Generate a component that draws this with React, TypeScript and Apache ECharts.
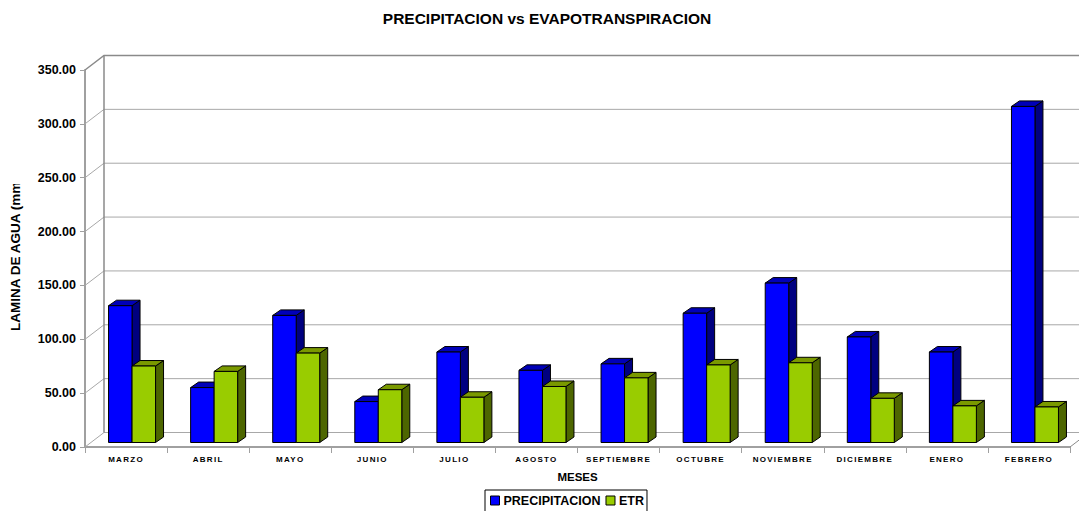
import React, { useEffect, useRef } from "react";
import * as echarts from "echarts";

const categories = ["MARZO","ABRIL","MAYO","JUNIO","JULIO","AGOSTO","SEPTIEMBRE","OCTUBRE","NOVIEMBRE","DICIEMBRE","ENERO","FEBRERO"];
const precipitacion = [127,51,118,38,84,67,73,120,148,98,84,312];
const etr = [71,66,83,49,42,52,60,72,74,41,34,33];
const wallTicks = [0,50,100,150,200,250,300,350];

const DX = 19, DY = 14.5;
const BAR_W = 23.5, OFF_X = 6, OFF_Y = 4.5, BDX = 8, BDY = 5.5;

function barItem(side: number, face: string, sideC: string, topC: string) {
  return (params: any, api: any) => {
    const i = api.value(0);
    const p = api.coord([i, api.value(1)]);
    const b = api.coord([i, 0]);
    const x0 = p[0] + OFF_X + (side === 0 ? -BAR_W : 0);
    const x1 = x0 + BAR_W;
    const yt = p[1] - OFF_Y;
    const yb = b[1] - OFF_Y;
    const st = { stroke: "#000", lineWidth: 1 };
    return {
      type: "group",
      children: [
        { type: "polygon", shape: { points: [[x1, yt],[x1 + BDX, yt - BDY],[x1 + BDX, yb - BDY],[x1, yb]] }, style: { fill: sideC, ...st } },
        { type: "polygon", shape: { points: [[x0, yt],[x0 + BDX, yt - BDY],[x1 + BDX, yt - BDY],[x1, yt]] }, style: { fill: topC, ...st } },
        { type: "rect", shape: { x: x0, y: yt, width: BAR_W, height: yb - yt }, style: { fill: face, ...st } },
      ],
    };
  };
}

function wallItem(params: any, api: any) {
  const v = api.value(0);
  const c = api.coord([0, v]);
  const cs = params.coordSys;
  const y = c[1];
  const strong = v === 350;
  const col = strong ? "#8a8a8a" : "#a8a8a8";
  return {
    type: "polyline",
    shape: { points: [[cs.x, y],[cs.x + DX, y - DY],[cs.x + cs.width + DX, y - DY]] },
    style: { fill: "none", stroke: col, lineWidth: strong ? 1.5 : 1 },
  };
}

function frameItem(params: any, api: any) {
  const cs = params.coordSys;
  const bottom = cs.y + cs.height;
  return {
    type: "group",
    children: [
      { type: "line", shape: { x1: cs.x + DX, y1: cs.y - DY, x2: cs.x + DX, y2: bottom - DY }, style: { stroke: "#8a8a8a", lineWidth: 1.5 } },
      { type: "line", shape: { x1: cs.x + cs.width, y1: bottom, x2: cs.x + cs.width + DX, y2: bottom - DY }, style: { stroke: "#8a8a8a", lineWidth: 1 } },
    ],
  };
}

export default function App() {
  const ref = useRef<HTMLDivElement>(null);
  useEffect(() => {
    const chart = echarts.init(ref.current!, null, { renderer: "svg" });
    const font = "'Liberation Sans', Arial, sans-serif";
    chart.setOption({
      animation: false,
      backgroundColor: "#fff",
      textStyle: { fontFamily: font },
      title: {
        text: "PRECIPITACION vs EVAPOTRANSPIRACION",
        left: 542, top: 5, textAlign: "center",
        textStyle: { fontSize: 15.5, fontWeight: "bold", color: "#000", fontFamily: font },
      },
      grid: { left: 85, top: 70, width: 985, height: 377, containLabel: false },
      xAxis: {
        type: "category", data: categories,
        name: "MESES", nameLocation: "middle", nameGap: 24,
        nameTextStyle: { fontSize: 11.5, fontWeight: "bold", color: "#000", fontFamily: font },
        axisLine: { lineStyle: { color: "#a0a0a0", width: 2 } },
        axisTick: { show: true, length: 6, alignWithLabel: false, lineStyle: { color: "#a0a0a0" } },
        axisLabel: { fontSize: 8, fontWeight: "bold", color: "#000", margin: 8, interval: 0, fontFamily: font },
        splitLine: { show: false },
      },
      yAxis: {
        type: "value", min: 0, max: 350, interval: 50,
        axisLine: { show: true, lineStyle: { color: "#a0a0a0", width: 2 } },
        axisTick: { show: true, length: 5, lineStyle: { color: "#a0a0a0" } },
        axisLabel: { fontSize: 12.5, fontWeight: "bold", color: "#000", margin: 9, formatter: (v: number) => v.toFixed(2), fontFamily: font },
        splitLine: { show: false },
      },
      graphic: [
        {
          type: "text", x: 15.5, y: 331, rotation: Math.PI / 2,
          style: { text: "LAMINA DE AGUA (mm)", fill: "#000", font: `bold 13.5px ${font}`, textAlign: "left", textVerticalAlign: "middle" },
          z: 10,
        },
        { type: "rect", shape: { x: 4, y: 150, width: 24, height: 34 }, style: { fill: "#fff" }, z: 11 },
      ],
      legend: {
        left: 485, top: 490, itemGap: 5, itemWidth: 9, itemHeight: 9,
        padding: [4, 3, 8, 5],
        borderColor: "#000", borderWidth: 1, backgroundColor: "#fff",
        data: [
          { name: "PRECIPITACION", icon: "rect", itemStyle: { color: "#0000ff", borderColor: "#000", borderWidth: 1 } },
          { name: "ETR", icon: "rect", itemStyle: { color: "#99cc00", borderColor: "#000", borderWidth: 1 } },
        ],
        textStyle: { fontSize: 12.5, fontWeight: "bold", color: "#000", fontFamily: font, padding: [0, 0, 0, -1] },
      },
      series: [
        { type: "custom", name: "walls", silent: true, clip: false, data: wallTicks.map((v) => [v]), encode: { y: 0 }, renderItem: wallItem, z: 1 },
        { type: "custom", name: "frame", silent: true, clip: false, data: [[0]], renderItem: frameItem, z: 1 },
        { type: "custom", name: "PRECIPITACION", clip: false, itemStyle: { color: "#0000ff" }, data: precipitacion.map((v, i) => [i, v]), encode: { x: 0, y: 1 }, renderItem: barItem(0, "#0000ff", "#000080", "#0000b8"), z: 3 },
        { type: "custom", name: "ETR", clip: false, itemStyle: { color: "#99cc00" }, data: etr.map((v, i) => [i, v]), encode: { x: 0, y: 1 }, renderItem: barItem(1, "#99cc00", "#4d6600", "#7a9900"), z: 4 },
      ],
    });
    ref.current!.querySelectorAll("text").forEach((t) => {
      if (categories.includes(t.textContent || "")) (t as SVGTextElement).style.letterSpacing = "1.3px";
    });
    return () => chart.dispose();
  }, []);
  return (
    <>
      <style>{`html,body{margin:0;padding:0;overflow:hidden}`}</style>
      <div ref={ref} style={{ width: 1079, height: 511, overflow: "hidden" }} />
    </>
  );
}
